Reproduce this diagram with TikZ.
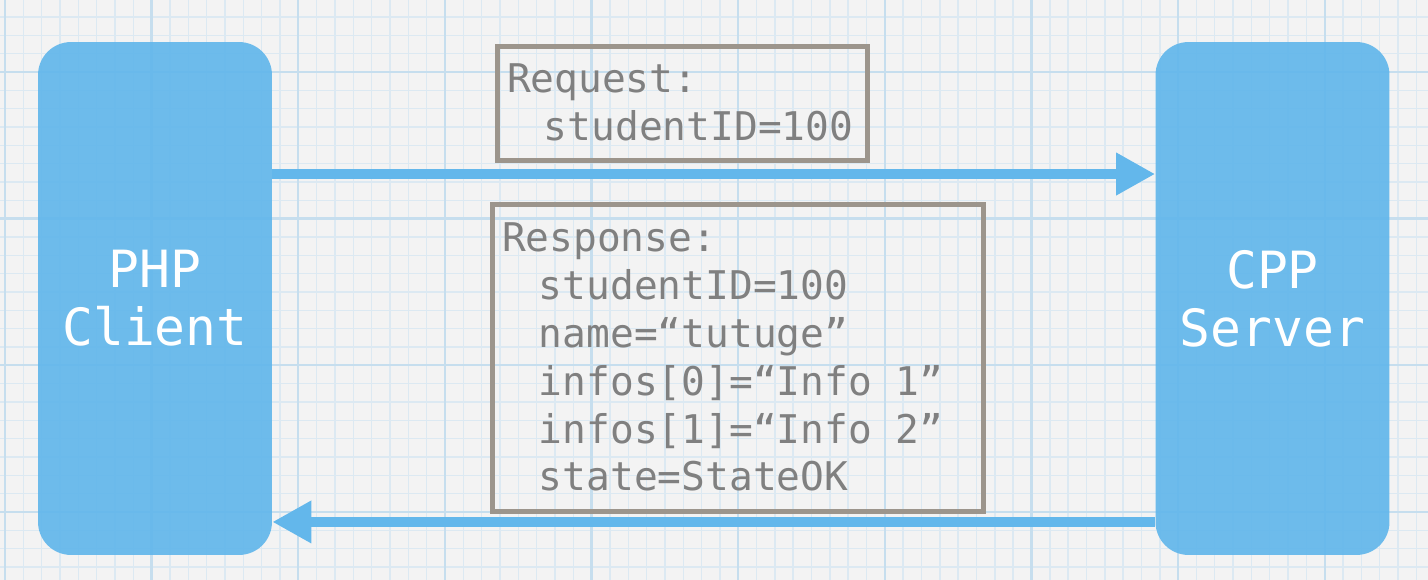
\documentclass[tikz,border=0pt]{standalone}
\usepackage{fontspec}
\usetikzlibrary{arrows.meta}
\newfontfamily\codefont{DejaVu Sans Mono}
\definecolor{paper}{HTML}{F3F3F3}
\definecolor{gridminor}{HTML}{DCE9F2}
\definecolor{gridmajor}{HTML}{C6DEEE}
\definecolor{boxblue}{HTML}{63B7EB}
\definecolor{msgborder}{HTML}{9C958C}
\definecolor{msgtext}{HTML}{808080}
\newcommand{\msgindent}{\hspace*{0.74cm}}
\newcommand{\msgspace}{\hspace{0.602em}}

\begin{document}
\begin{tikzpicture}[x=0.02cm,y=-0.02cm,
    endpoint/.style={fill=boxblue,fill opacity=0.93,text opacity=1,rounded corners=0.66cm,minimum width=4.68cm,minimum height=10.26cm,align=center,text=white,font=\codefont\fontsize{29.2}{32.9}\selectfont},
    message/.style={draw=msgborder,line width=2.8pt,inner xsep=0.19cm,inner ysep=0pt,outer sep=0pt,anchor=north west,align=left,text=msgtext,font=\codefont\fontsize{22.5}{27.2}\selectfont},
    flow/.style={draw=boxblue,line width=0.2cm,-{Triangle[length=0.78cm,width=0.8cm]}}]
    \useasboundingbox (0,0) rectangle (1428,580);
    \fill[paper] (0,0) rectangle (1428,580);

    % graph paper
    \foreach \i in {0,...,77} \draw[gridminor,line width=0.8pt] ({5+18.33*\i},0) -- ({5+18.33*\i},580);
    \foreach \j in {-1,...,31} \draw[gridminor,line width=0.8pt] (0,{17+18.33*\j}) -- (1428,{17+18.33*\j});
    \foreach \i in {0,...,9} \draw[gridmajor,line width=1.3pt] ({5+146.64*\i},0) -- ({5+146.64*\i},580);
    \foreach \j in {0,...,3} \draw[gridmajor,line width=1.3pt] (0,{72+146.64*\j}) -- (1428,{72+146.64*\j});

    \node[endpoint] (php) at (155,298.5) {PHP\\Client};
    \node[endpoint] (cpp) at (1272.5,298.5) {CPP\\Server};

    \node[message,text width=7.02cm,text height=0.93cm,text depth=1.35cm] (request) at (497.5,46.5)
        {Request:\\\msgindent studentID=100};
    \node[message,text width=9.44cm,text height=0.95cm,text depth=5.19cm] (response) at (492.5,204.5)
        {Response:\\\msgindent studentID=100\\\msgindent name=“tutuge”\\\msgindent infos[0]=“Info\msgspace 1”\\\msgindent infos[1]=“Info\msgspace 2”\\\msgindent state=StateOK};

    \draw[flow] ([yshift=2.49cm]php.east) -- ([yshift=2.49cm]cpp.west);
    \draw[flow] ([yshift=-4.47cm]cpp.west) -- ([yshift=-4.47cm]php.east);
\end{tikzpicture}
\end{document}
